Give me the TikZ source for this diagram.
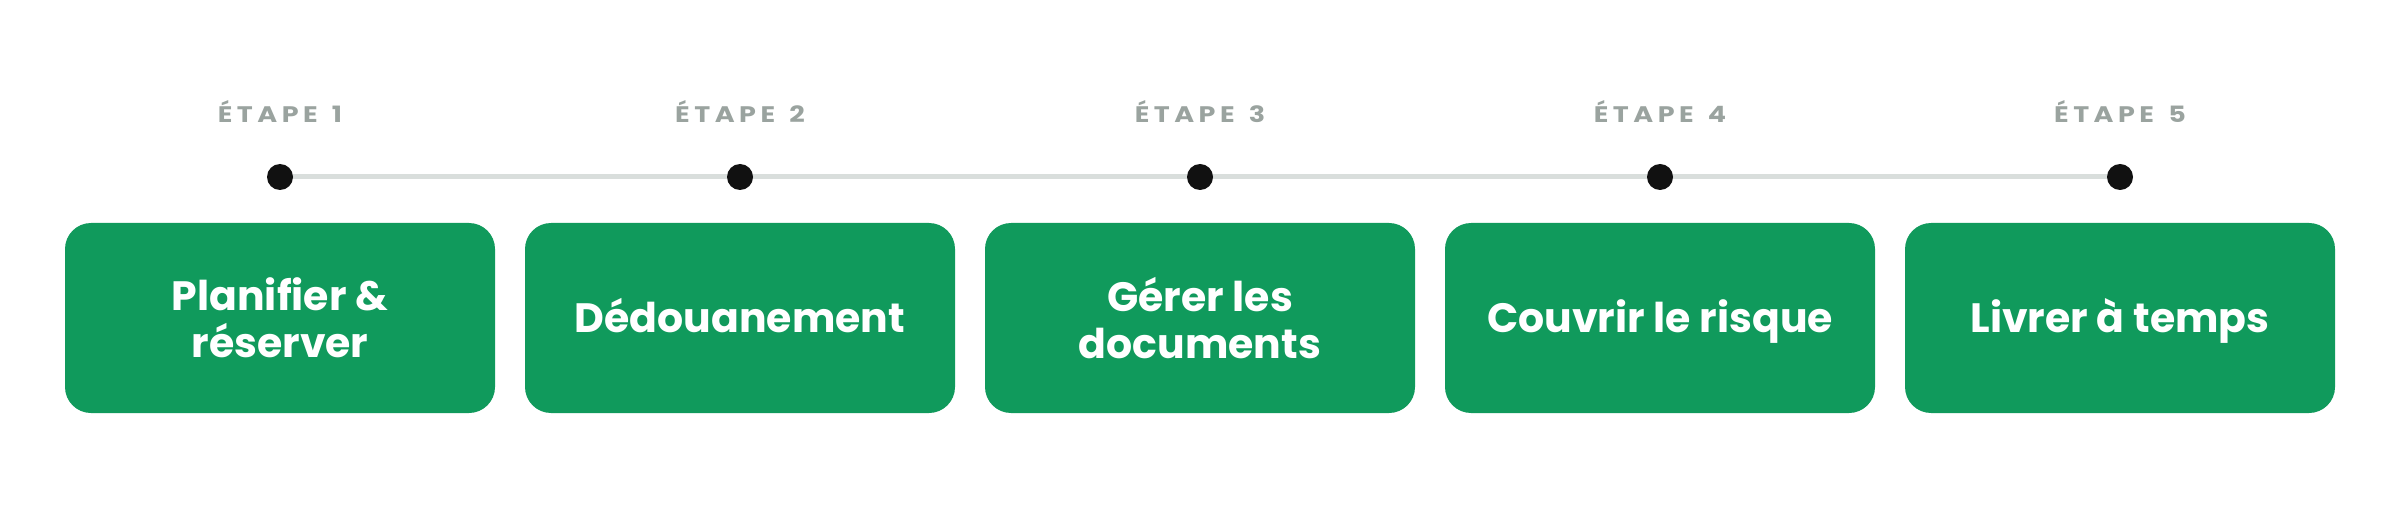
\documentclass[tikz,border=0pt]{standalone}
\usepackage{fontspec}
\setmainfont{Poppins}
\newfontfamily\stepfont{Poppins}[LetterSpace=20, FakeStretch=1.2, UprightFont={* Bold}]
\definecolor{boxgreen}{RGB}{16,154,92}
\definecolor{stepgray}{RGB}{154,163,159}
\definecolor{linegray}{RGB}{217,222,220}
\definecolor{dotblack}{RGB}{17,17,17}
\begin{document}
\begin{tikzpicture}[x=1pt,y=1pt,
  stagebox/.style={fill=boxgreen, rounded corners=26pt, minimum width=430pt, minimum height=190pt,
    inner sep=0pt, text=white, align=center, font=\fontsize{41}{47}\selectfont\bfseries},
  oneline/.style={text height=30.5pt, text depth=1.5pt},
  steplabel/.style={text=stepgray, anchor=base, inner sep=0pt, font=\stepfont\fontsize{22.5}{26}\selectfont},
  stepdot/.style={circle, fill=dotblack, minimum size=26pt, inner sep=0pt},
  track/.style={draw=linegray, line width=5pt}]
\useasboundingbox (0,0) rectangle (2400,512);
\foreach \i/\x in {1/280,2/740,3/1200,4/1660,5/2120}{
  \coordinate (c\i) at (\x,335);
}
\draw[track] (c1) -- (c5);
\foreach \i/\x in {1/280,2/740,3/1200,4/1660,5/2120}{
  \node[stepdot] (d\i) at (c\i) {};
  \node[steplabel] (l\i) at (\x,389) {ÉTAPE\hspace{4pt} \i};
}
\node[stagebox] (b1) at (280,194) {Planifier \&\\réserver};
\node[stagebox, oneline] (b2) at (740,194) {Dédouanement};
\node[stagebox] (b3) at (1200,194) {Gérer les\\documents};
\node[stagebox, oneline] (b4) at (1660,194) {Couvrir le risque};
\node[stagebox, oneline] (b5) at (2120,194) {Livrer à temps};
\end{tikzpicture}
\end{document}
